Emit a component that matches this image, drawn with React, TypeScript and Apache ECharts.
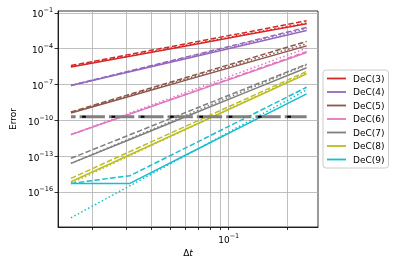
import React, { useEffect, useRef } from 'react';
import * as echarts from 'echarts';

// time steps
const dt = [0.015625, 0.03125, 0.0625, 0.125, 0.25];

// errors (solid, dashed, dotted per method)
const dec3Solid = [2.95e-6, 2.34e-5, 1.86e-4, 1.51e-3, 1.2e-2];
const dec3Dashed = [3.8e-6, 3.31e-5, 2.82e-4, 2.45e-3, 2.14e-2];
const dec3Dotted = [3.16e-6, 2.57e-5, 2.09e-4, 1.74e-3, 1.41e-2];

const dec4Solid = [8.3e-8, 1.17e-6, 1.66e-5, 2.34e-4, 3.31e-3];
const dec4Dashed = [8.3e-8, 1.36e-6, 2.24e-5, 3.67e-4, 6.03e-3];
const dec4Dotted = [8.3e-8, 1.29e-6, 2.0e-5, 3.09e-4, 4.79e-3];

const dec5Solid = [4.17e-10, 1.05e-8, 2.66e-7, 6.76e-6, 1.7e-4];
const dec5Dashed = [5.01e-10, 1.5e-8, 4.47e-7, 1.33e-5, 3.98e-4];
const dec5Dotted = [4.68e-10, 1.26e-8, 3.43e-7, 9.33e-6, 2.51e-4];

const dec6Solid = [6.31e-12, 3.31e-10, 1.72e-8, 8.91e-7, 4.68e-5];
const dec6Dashed = [6.31e-12, 3.47e-10, 1.88e-8, 1.02e-6, 5.62e-5];
const dec6Dotted = [6.31e-12, 4.07e-10, 2.63e-8, 1.7e-6, 1.1e-4];

const dec7Solid = [2.51e-14, 2.51e-12, 2.51e-10, 2.51e-8, 2.51e-6];
const dec7Dashed = [6.61e-14, 6.17e-12, 5.75e-10, 5.37e-8, 5.01e-6];
const dec7Dotted = [2.51e-14, 2.88e-12, 3.35e-10, 3.89e-8, 4.47e-6];

const dec8Solid = [7.24e-16, 1.32e-13, 2.4e-11, 4.37e-9, 7.94e-7];
const dec8Dashed = [1.38e-15, 2.4e-13, 4.17e-11, 7.24e-9, 1.26e-6];
const dec8Dotted = [5.25e-16, 1.1e-13, 2.29e-11, 4.79e-9, 1.0e-6];

const dec9Solid = [5.25e-16, 5.25e-16, 1.66e-13, 5.25e-11, 1.62e-8];
const dec9Dashed = [5.25e-16, 2.29e-15, 6.61e-13, 1.95e-10, 5.89e-8];
const dec9Dotted = [6.92e-19, 3.31e-16, 1.58e-13, 7.41e-11, 3.55e-8];

const tolerance = [2e-10, 2e-10, 2e-10, 2e-10, 2e-10];

const methodNames = ['DeC(3)', 'DeC(4)', 'DeC(5)', 'DeC(6)', 'DeC(7)', 'DeC(8)', 'DeC(9)'];
const colors = ['#d62728', '#9467bd', '#8c564b', '#e377c2', '#7f7f7f', '#bcbd22', '#17becf'];
const solids = [dec3Solid, dec4Solid, dec5Solid, dec6Solid, dec7Solid, dec8Solid, dec9Solid];
const dasheds = [dec3Dashed, dec4Dashed, dec5Dashed, dec6Dashed, dec7Dashed, dec8Dashed, dec9Dashed];
const dotteds = [dec3Dotted, dec4Dotted, dec5Dotted, dec6Dotted, dec7Dotted, dec8Dotted, dec9Dotted];

const xMajorTicks = [0.1];
const xMinorTicks = [0.02, 0.03, 0.04, 0.05, 0.06, 0.07, 0.08, 0.09, 0.1, 0.2];
const yTicks = [1e-16, 1e-13, 1e-10, 1e-7, 1e-4, 1e-1];

const FONT = 'DejaVu Sans';

const supLabel = (v: number) => {
  const e = Math.round(Math.log10(v));
  return `{b|10}{s|${e < 0 ? '\u2212' : ''}${Math.abs(e)}}`;
};
const rich = {
  b: { fontSize: 9, fontFamily: FONT, color: '#000', verticalAlign: 'bottom' },
  s: { fontSize: 6.5, fontFamily: FONT, color: '#000', verticalAlign: 'bottom', padding: [0, 0, 5, 0] },
};

const grayDash: number[] = [4.7, 4];
for (let i = 0; i < 9; i++) grayDash.push(25.3, 4);
const blackDash: number[] = [0, 11.2];
for (let i = 0; i < 9; i++) blackDash.push(3.7, 25.6);

export default function App() {
  const ref = useRef<HTMLDivElement>(null);
  useEffect(() => {
    if (!ref.current) return;
    const chart = echarts.init(ref.current, undefined, { renderer: 'svg' });
    const series: any[] = [];
    const mk = (name: string, color: string, vals: number[], type: any, z: number) => ({
      type: 'line',
      name,
      data: dt.map((x, i) => [x, vals[i]]),
      symbol: 'none',
      silent: true,
      z,
      lineStyle: { color, width: 1.5, type, cap: 'butt' },
      itemStyle: { color },
    });
    methodNames.forEach((n, k) => {
      series.push(mk(n, colors[k], solids[k], 'solid', 2));
      series.push(mk(n + ' dashed', colors[k], dasheds[k], [5.5, 2.4], 2));
      series.push(mk(n + ' dotted', colors[k], dotteds[k], [1.5, 2.4], 2));
    });
    series.push({
      type: 'line', name: 'tol', data: dt.map((x, i) => [x, tolerance[i]]), symbol: 'none', silent: true, z: 3,
      lineStyle: { color: '#808080', width: 3, type: grayDash, cap: 'butt' },
    });
    series.push({
      type: 'line', name: 'tol2', data: dt.map((x, i) => [x, tolerance[i]]), symbol: 'none', silent: true, z: 4,
      lineStyle: { color: '#000', width: 2, type: blackDash, cap: 'butt' },
    });
    chart.setOption({
      animation: false,
      textStyle: { fontFamily: FONT },
      grid: { left: 55, right: 81, top: 11, bottom: 39, show: true, borderColor: '#000', borderWidth: 0.8, backgroundColor: 'transparent' },
      legend: {
        data: methodNames.map((n) => ({ name: n, icon: 'rect' })),
        orient: 'vertical',
        left: 323,
        top: 70,
        itemWidth: 19,
        itemHeight: 1.8,
        itemGap: 3.5,
        padding: [3.5, 4, 3.5, 4],
        borderColor: '#cccccc',
        borderWidth: 1,
        borderRadius: 3,
        backgroundColor: '#fff',
        selectedMode: false,
        textStyle: { fontSize: 9, fontFamily: FONT, color: '#000', lineHeight: 10, padding: [0, 0, 0, 2] },
      },
      xAxis: {
        type: 'log',
        logBase: 10,
        min: 0.01343,
        max: 0.2858,
        name: '{a|\u0394}{i|t}',
        nameLocation: 'middle',
        nameGap: 18,
        nameTextStyle: {
          rich: {
            a: { fontSize: 9, fontFamily: FONT, color: '#000' },
            i: { fontSize: 9, fontFamily: FONT, fontStyle: 'italic', color: '#000' },
          },
        },
        axisLine: { show: true, lineStyle: { color: '#000', width: 0.8 } },
        axisTick: { show: true, inside: false, length: 3, customValues: xMinorTicks, lineStyle: { color: '#000', width: 0.8 } },
        axisLabel: { customValues: xMajorTicks, formatter: supLabel, rich, margin: 5 },
        splitLine: { show: true, lineStyle: { color: '#b0b0b0', width: 0.8 } },
        minorTick: { show: false },
      },
      yAxis: {
        type: 'log',
        logBase: 10,
        min: Math.pow(10, -18.93),
        max: Math.pow(10, -0.85),
        name: 'Error',
        nameLocation: 'middle',
        nameGap: 36,
        nameRotate: 90,
        nameTextStyle: { fontSize: 9, fontFamily: FONT, color: '#000' },
        axisLine: { show: true, lineStyle: { color: '#000', width: 0.8 } },
        axisTick: { show: true, inside: false, length: 3.5, customValues: yTicks, lineStyle: { color: '#000', width: 0.8 } },
        axisLabel: { customValues: yTicks, formatter: supLabel, rich, margin: 5 },
        splitLine: { show: true, lineStyle: { color: '#b0b0b0', width: 0.8 } },
      },
      series,
    });
    return () => chart.dispose();
  }, []);
  return <div ref={ref} style={{ position: 'fixed', left: 0, top: 0, width: 399, height: 266 }} />;
}
